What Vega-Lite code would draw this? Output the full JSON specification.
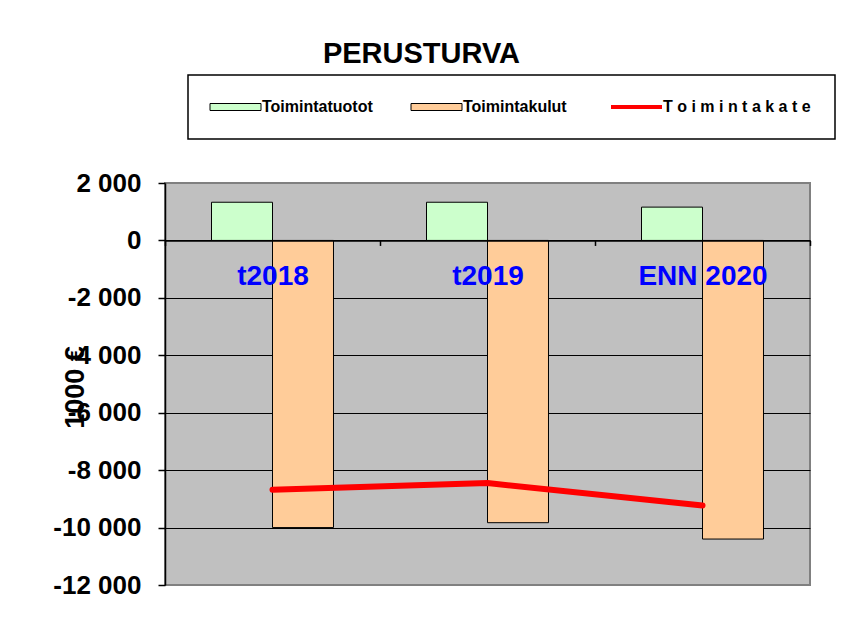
{
  "$schema": "https://vega.github.io/schema/vega-lite/v6.json",
  "width": 645,
  "height": 402,
  "autosize": {"type": "none"},
  "padding": {"left": 165, "top": 183, "right": 36, "bottom": 34},
  "background": "white",
  "title": {
    "text": "PERUSTURVA",
    "fontSize": 29,
    "font": "Liberation Sans",
    "fontWeight": "bold",
    "color": "black",
    "anchor": "middle",
    "dx": -66,
    "offset": -18,
    "baseline": "alphabetic"
  },
  "config": {
    "locale": {"number": {"decimal": ",", "thousands": " ", "grouping": [3], "currency": ["", " €"], "minus": "-"}},
    "view": {"fill": "#C0C0C0", "stroke": "#808080", "strokeWidth": 2},
    "font": "Liberation Sans"
  },
  "data": {
    "values": [
      {"year": "t2018", "type": "Toimintatuotot", "value": 1330},
      {"year": "t2018", "type": "Toimintakulut", "value": -10000},
      {"year": "t2018", "type": "T o i m i n t a k a t e", "value": -8680},
      {"year": "t2019", "type": "Toimintatuotot", "value": 1330},
      {"year": "t2019", "type": "Toimintakulut", "value": -9830},
      {"year": "t2019", "type": "T o i m i n t a k a t e", "value": -8450},
      {"year": "ENN 2020", "type": "Toimintatuotot", "value": 1160},
      {"year": "ENN 2020", "type": "Toimintakulut", "value": -10400},
      {"year": "ENN 2020", "type": "T o i m i n t a k a t e", "value": -9230}
    ]
  },
  "layer": [
    {
      "transform": [{"filter": "datum.type != 'T o i m i n t a k a t e'"}],
      "mark": {"type": "bar", "stroke": "black", "strokeWidth": 1},
      "encoding": {
        "x": {
          "field": "year", "type": "nominal", "sort": ["t2018", "t2019", "ENN 2020"],
          "scale": {"paddingInner": 0, "paddingOuter": 0},
          "axis": {
            "title": null, "orient": "bottom", "offset": -344.57,
            "domainColor": "black", "domainWidth": 1.5,
            "tickColor": "black", "tickSize": 5, "tickWidth": 1.5, "tickBand": "extent",
            "labelColor": "#0000FF", "labelFontSize": 28, "labelFont": "Liberation Sans",
            "labelFontWeight": "bold", "labelAngle": 0, "labelPadding": 17,
            "grid": false, "zindex": 1
          }
        },
        "xOffset": {
          "field": "type", "type": "nominal", "sort": ["Toimintatuotot", "Toimintakulut"],
          "scale": {"paddingInner": 0, "paddingOuter": 0.7623}
        },
        "y": {
          "field": "value", "type": "quantitative",
          "scale": {"domain": [-12000, 2000], "nice": false},
          "axis": {
            "title": "1000 €",
            "values": [-12000, -10000, -8000, -6000, -4000, -2000, 0, 2000],
            "format": ",d",
            "domainColor": "black", "domainWidth": 1.5,
            "tickColor": "black", "tickSize": 7, "tickWidth": 1.5,
            "labelFontSize": 26, "labelFontWeight": "bold", "labelColor": "black",
            "labelFont": "Liberation Sans", "labelPadding": 17,
            "grid": true,
            "gridColor": {"condition": {"test": "datum.value == 2000 || datum.value == -12000", "value": "#808080"}, "value": "black"},
            "gridWidth": 1.2,
            "titleFontSize": 27, "titleFontWeight": "bold", "titleColor": "black",
            "titleFont": "Liberation Sans",
            "titleAngle": 270, "titleX": -82, "titleY": 204,
            "titleAlign": "center", "titleBaseline": "alphabetic"
          }
        },
        "color": {
          "field": "type", "type": "nominal",
          "scale": {
            "domain": ["Toimintatuotot", "Toimintakulut", "T o i m i n t a k a t e"],
            "range": ["#CCFFCC", "#FFCC99", "#FF0000"]
          },
          "legend": {
            "title": null,
            "orient": "none",
            "legendX": 23,
            "legendY": -108,
            "direction": "horizontal",
            "columns": 3,
            "strokeColor": "black",
            "fillColor": "white",
            "padding": 24,
            "labelFont": "Liberation Sans",
            "labelFontSize": 16,
            "labelFontWeight": "bold",
            "labelColor": "black",
            "labelLimit": 400,
            "labelOffset": 34,
            "columnPadding": 36,
            "symbolType": "M-1,-0.35H4.1V0.35H-1Z",
            "symbolSize": 400,
            "symbolStrokeColor": "black",
            "symbolStrokeWidth": 1,
            "symbolOpacity": 1,
            "encode": {
              "legend": {"update": {"strokeWidth": {"value": 1.5}}},
              "symbols": {
                "update": {
                  "shape": {"signal": "datum.value === 'T o i m i n t a k a t e' ? 'M-1,0H4.1' : 'M-1,-0.35H4.1V0.35H-1Z'"},
                  "stroke": {"signal": "datum.value === 'T o i m i n t a k a t e' ? '#FF0000' : '#000000'"},
                  "strokeWidth": {"signal": "datum.value === 'T o i m i n t a k a t e' ? 4 : 1"},
                  "fill": {"signal": "datum.value === 'Toimintatuotot' ? '#CCFFCC' : datum.value === 'Toimintakulut' ? '#FFCC99' : 'transparent'"},
                  "opacity": {"value": 1}
                }
              }
            }
          }
        }
      }
    },
    {
      "transform": [{"filter": "datum.type == 'T o i m i n t a k a t e'"}],
      "mark": {"type": "line", "color": "#FF0000", "strokeWidth": 6, "strokeCap": "round", "strokeJoin": "round"},
      "encoding": {
        "x": {"field": "year", "type": "nominal", "sort": ["t2018", "t2019", "ENN 2020"]},
        "y": {"field": "value", "type": "quantitative"}
      }
    }
  ]
}
